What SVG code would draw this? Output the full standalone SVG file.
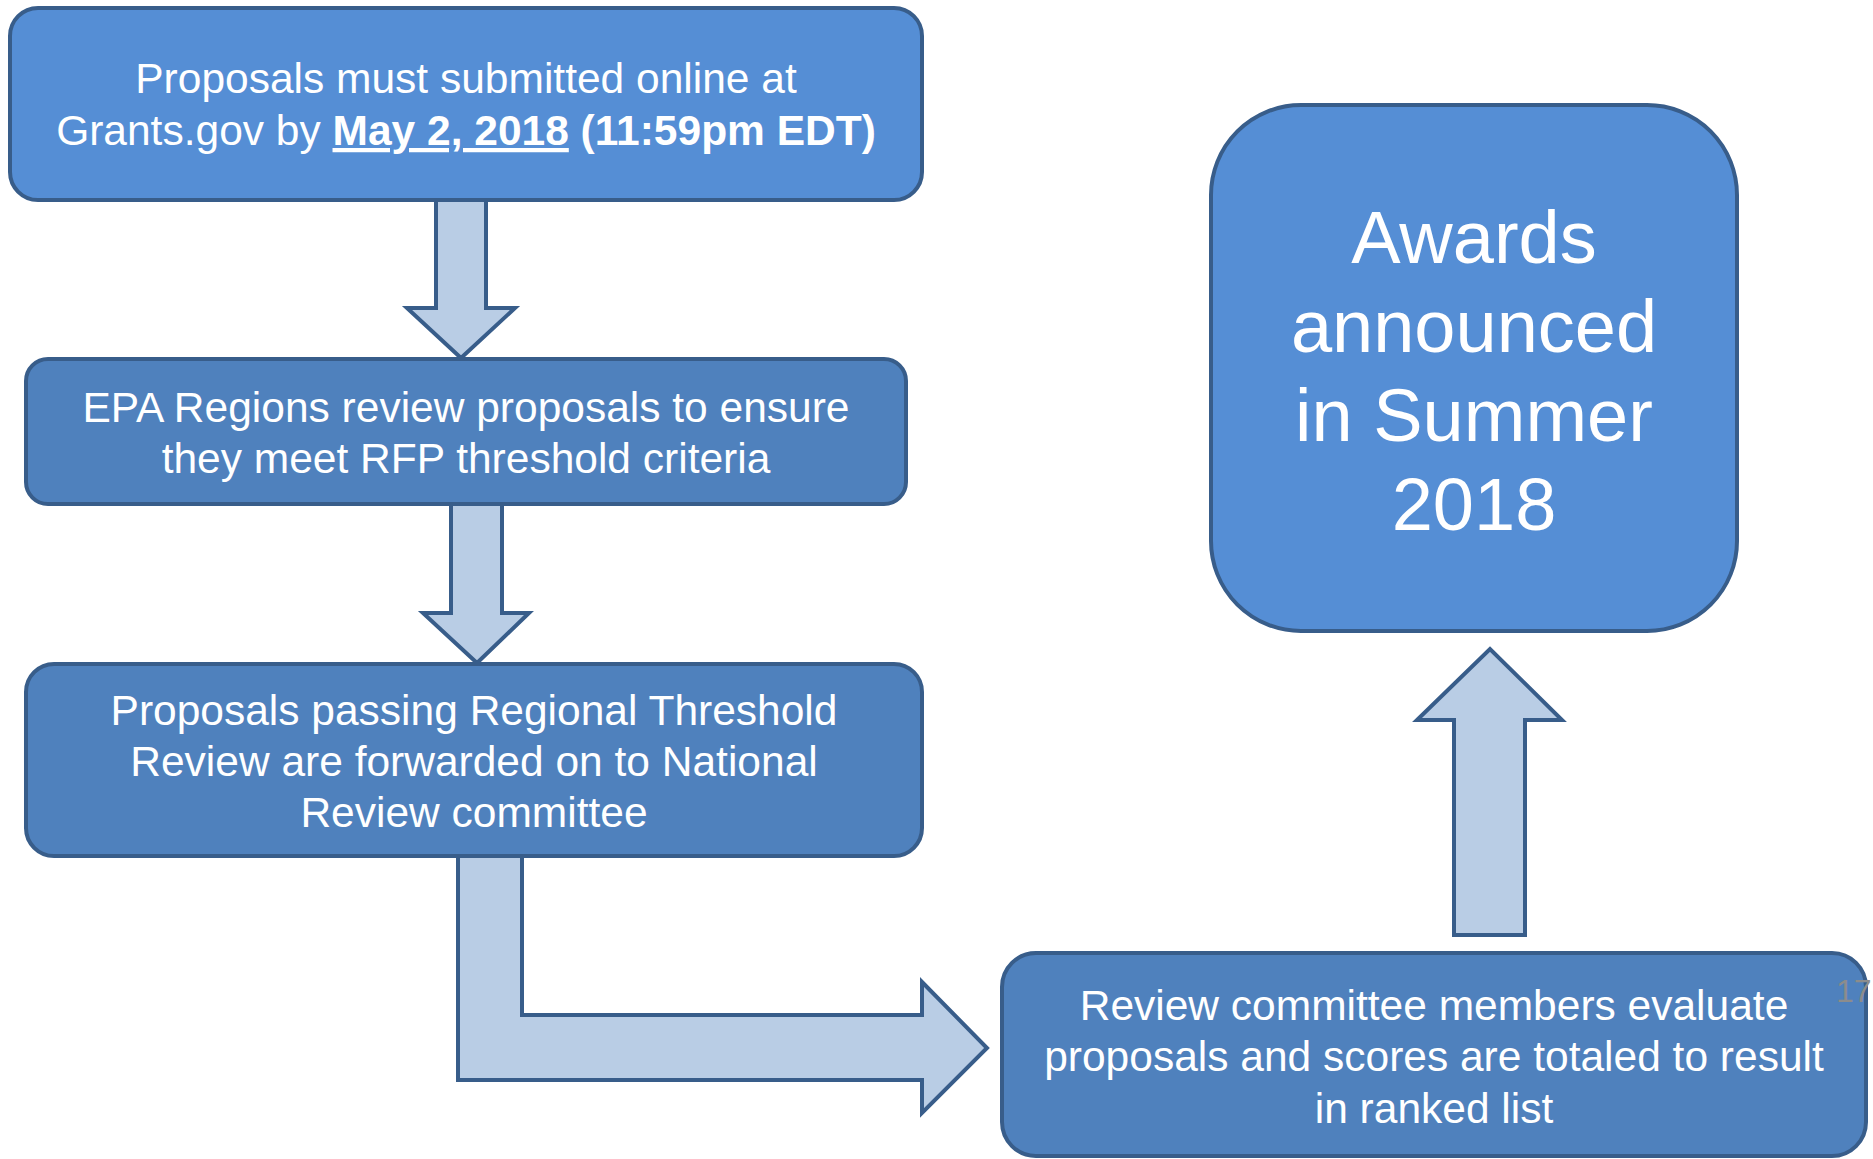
<svg xmlns="http://www.w3.org/2000/svg" width="1873" height="1159" viewBox="0 0 1873 1159">
<style>
.box{stroke:#385D8A;stroke-width:4}
.light{fill:#558ED5}
.dark{fill:#4F81BD}
.arrow{fill:#B9CDE5;stroke:#385D8A;stroke-width:4;stroke-linejoin:miter}
.t{font-family:"Liberation Sans",Arial,sans-serif;font-size:42.5px;fill:#FFFFFF;text-anchor:middle}
.big{font-size:74px}
.pg{font-family:"Liberation Sans",Arial,sans-serif;font-size:32px;fill:#8C8C8C}
</style>
<rect width="1873" height="1159" fill="#FFFFFF"/>
<g id="connectors">
<path class="arrow" d="M436,200 L486,200 L486,308 L515,308 L461,358 L407,308 L436,308 Z"/>
<path class="arrow" d="M451,504 L502,504 L502,613 L529,613 L477,663 L423,613 L451,613 Z"/>
<path class="arrow" d="M458,856 L522,856 L522,1015 L922,1015 L922,982 L987,1048 L922,1113 L922,1080 L458,1080 Z"/>
<path class="arrow" d="M1454,935 L1525,935 L1525,720 L1562,720 L1490,649 L1417,720 L1454,720 Z"/>
</g>
<g id="node-submit">
<rect class="box light" x="10" y="8" width="912" height="192" rx="28"/>
<text class="t" x="466" y="93">Proposals must submitted online at</text>
<text class="t" x="466" y="145">Grants.gov by <tspan font-weight="bold" text-decoration="underline">May 2, 2018</tspan><tspan font-weight="bold"> (11:59pm EDT)</tspan></text>
</g>
<g id="node-regions">
<rect class="box dark" x="26" y="359" width="880" height="145" rx="22"/>
<text class="t" x="466" y="422">EPA Regions review proposals to ensure</text>
<text class="t" x="466" y="473">they meet RFP threshold criteria</text>
</g>
<g id="node-passing">
<rect class="box dark" x="26" y="664" width="896" height="192" rx="28"/>
<text class="t" x="474" y="725">Proposals passing Regional Threshold</text>
<text class="t" x="474" y="776">Review are forwarded on to National</text>
<text class="t" x="474" y="827">Review committee</text>
</g>
<g id="node-committee">
<rect class="box dark" x="1002" y="953" width="864" height="203" rx="34"/>
<text class="t" x="1434" y="1020">Review committee members evaluate</text>
<text class="t" x="1434" y="1071">proposals and scores are totaled to result</text>
<text class="t" x="1434" y="1123">in ranked list</text>
</g>
<g id="node-awards">
<rect class="box light" x="1211" y="105" width="526" height="526" rx="90"/>
<text class="t big" x="1474" y="263">Awards</text>
<text class="t big" x="1474" y="352">announced</text>
<text class="t big" x="1474" y="441">in Summer</text>
<text class="t big" x="1474" y="530">2018</text>
</g>
<text class="pg" x="1836" y="1002">17</text>
</svg>
